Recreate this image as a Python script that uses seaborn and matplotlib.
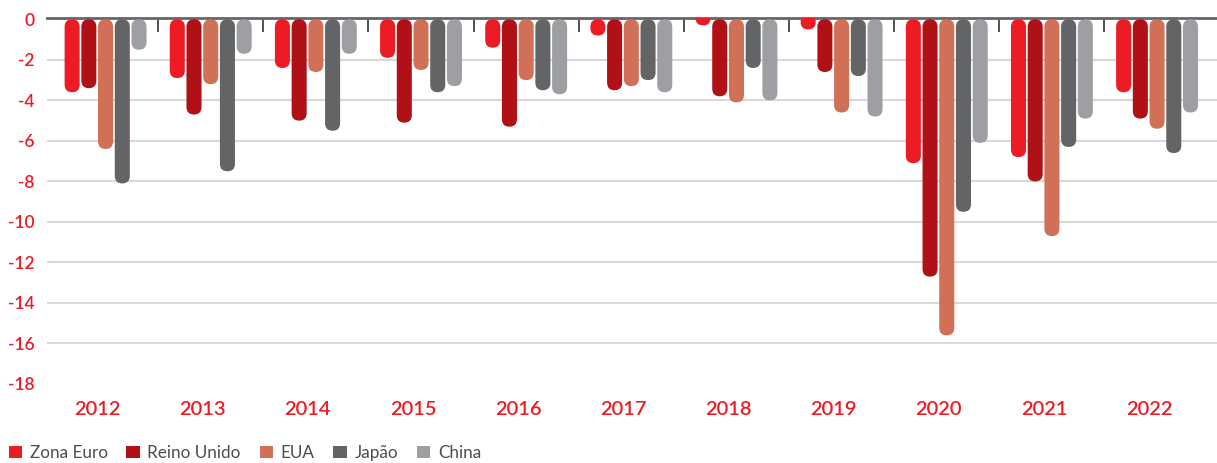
import numpy as np
import pandas as pd
import matplotlib
matplotlib.use("Agg")
import matplotlib.pyplot as plt
import matplotlib.transforms as mtransforms
from matplotlib.patches import FancyBboxPatch, Patch
import seaborn as sns

# Saldo orçamental (% do PIB)
anos = ['2012', '2013', '2014', '2015', '2016', '2017', '2018', '2019', '2020', '2021', '2022']
zona_euro = [-3.6, -2.9, -2.4, -1.9, -1.4, -0.8, -0.3, -0.5, -7.1, -6.8, -3.6]
reino_unido = [-3.4, -4.7, -5.0, -5.1, -5.3, -3.5, -3.8, -2.6, -12.7, -8.0, -4.9]
eua = [-6.4, -3.2, -2.6, -2.5, -3.0, -3.3, -4.1, -4.6, -15.6, -10.7, -5.4]
japao = [-8.1, -7.5, -5.5, -3.6, -3.5, -3.0, -2.4, -2.8, -9.5, -6.3, -6.6]
china = [-1.5, -1.7, -1.7, -3.3, -3.7, -3.6, -4.0, -4.8, -6.1, -4.9, -4.6]

series = ['Zona Euro', 'Reino Unido', 'EUA', 'Japão', 'China']
cores = ['#ED1C24', '#B01117', '#D07057', '#636466', '#9D9FA2']

df = pd.DataFrame({'Ano': anos, 'Zona Euro': zona_euro, 'Reino Unido': reino_unido,
                   'EUA': eua, 'Japão': japao, 'China': china})
df = df.melt(id_vars='Ano', var_name='Serie', value_name='Valor')

sns.set_style('white')
plt.rcParams['font.family'] = ['Lato', 'DejaVu Sans']

fig = plt.figure(figsize=(12.17, 4.63), dpi=100)
ax = fig.add_axes([47 / 1217, 1 - 384 / 463, 1 - 47 / 1217, (384 - 17.7) / 463])

sns.barplot(data=df, x='Ano', y='Valor', hue='Serie', hue_order=series,
            palette=cores, saturation=1, width=0.795, gap=0.1, legend=False, ax=ax)

ax.set_xlim(-0.557, 10.57)
ax.set_ylim(-18, 0.08)

# rounded bars: swap the rectangles for pill shapes with circular ends
p0 = ax.transData.transform((0, 0))
p1 = ax.transData.transform((1, 1))
aspect = (p1[0] - p0[0]) / (p1[1] - p0[1])
for bar in list(ax.patches):
    x, w = bar.get_x(), bar.get_width()
    bottom = min(bar.get_y(), bar.get_y() + bar.get_height())
    top = max(bar.get_y(), bar.get_y() + bar.get_height())
    # very short bars keep the full round end, the part above zero gets clipped
    if top - bottom < w * aspect:
        top = bottom + w * aspect
    pill = FancyBboxPatch((x, bottom), w, top - bottom,
                          boxstyle=f"round,pad=0,rounding_size={w / 2}",
                          mutation_aspect=aspect, facecolor=bar.get_facecolor(),
                          edgecolor='none', zorder=3)
    bar.remove()
    ax.add_patch(pill)

# grid and axes
ax.set_yticks(np.arange(-18, 1, 2))
ax.set_yticklabels([str(v) for v in range(-18, 1, 2)])
ax.grid(axis='y', color='#D9D9D9', linewidth=1.5, zorder=0)
ax.yaxis.get_gridlines()[0].set_visible(False)
ax.yaxis.get_gridlines()[-1].set_visible(False)
ax.set_axisbelow(True)
for s in ['left', 'right', 'bottom']:
    ax.spines[s].set_visible(False)
ax.spines['top'].set_color('#666666')
ax.spines['top'].set_linewidth(2)

ax.set_xticks(np.arange(0.5, len(anos) - 1), minor=True)
ax.tick_params(axis='x', which='minor', top=True, bottom=False, direction='in',
               length=10, width=1.2, color='#333333')
ax.tick_params(axis='x', which='major', length=0, pad=12, labelsize=14.5,
               labelcolor='#ED1C24')
ax.tick_params(axis='y', length=0, pad=9, labelsize=12.5, labelcolor='#ED1C24')
for lab in ax.get_xticklabels():
    lab.set_fontweight('semibold')
    lab.set_transform(lab.get_transform() + mtransforms.ScaledTranslation(-8 / 100, 0, fig.dpi_scale_trans))
for lab in ax.get_yticklabels():
    lab.set_fontweight('semibold')

ax.set_xlabel('')
ax.set_ylabel('')

handles = [Patch(facecolor=c, edgecolor='none', label=s) for s, c in zip(series, cores)]
fig.legend(handles=handles, loc='lower left', bbox_to_anchor=(0.0, -0.014),
           ncol=5, frameon=False, fontsize=12.3, handlelength=0.78, handleheight=0.78,
           handletextpad=0.45, columnspacing=1.1, borderpad=0, labelcolor='#4D4D4D')

fig.savefig('out.png', dpi=100)
